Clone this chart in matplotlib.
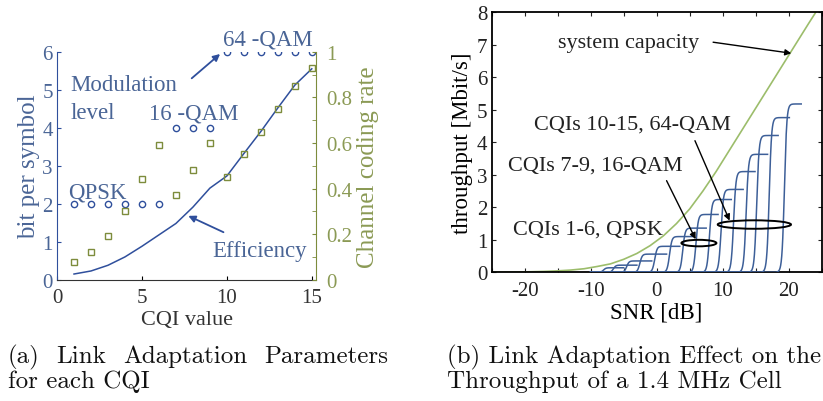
import numpy as np
import matplotlib
matplotlib.use("Agg")
import matplotlib.pyplot as plt
from matplotlib.patches import Ellipse

# ---- panel (a): link adaptation parameters per CQI ----
CQI = list(range(1, 16))
MOD_BITS = [2, 2, 2, 2, 2, 2, 4, 4, 4, 6, 6, 6, 6, 6, 6]
CODE_RATE = [0.076, 0.12, 0.19, 0.30, 0.44, 0.59, 0.37, 0.48, 0.60,
             0.45, 0.55, 0.65, 0.75, 0.85, 0.93]
EFFICIENCY = [0.15, 0.23, 0.38, 0.60, 0.88, 1.18, 1.48, 1.91, 2.41,
              2.73, 3.32, 3.90, 4.52, 5.12, 5.55]

# ---- panel (b): throughput vs SNR ----
CAP_SNR = [-25, -23, -21, -19, -17, -15, -13, -11, -9, -7, -5, -3, -1,
           1, 3, 5, 7, 9, 11, 13, 15, 17, 19, 21, 23, 24.1]
CAP_TPUT = [0.005, 0.007, 0.011, 0.018, 0.028, 0.045, 0.07, 0.11, 0.18,
            0.26, 0.40, 0.58, 0.82, 1.12, 1.50, 1.95, 2.50, 3.10, 3.75,
            4.40, 5.05, 5.70, 6.35, 7.00, 7.65, 8.0]
STEP_PLATEAU = [0.14, 0.22, 0.35, 0.56, 0.80, 1.10, 1.36, 1.78, 2.24,
                2.55, 3.10, 3.63, 4.21, 4.76, 5.18]
STEP_TOP = [-7.5, -6.0, -4.0, -2.0, 0.25, 2.5, 4.5, 6.5, 8.55,
            10.3, 12.2, 14.1, 15.7, 17.6, 19.9]
STEP_END = [-5.0, -3.0, -0.75, 1.5, 3.5, 5.5, 7.5, 9.3, 11.3,
            13.1, 14.9, 16.8, 18.4, 20.1, 21.9]

BLUE = "#2f4f9c"
BLUE_TXT = "#4a6596"
OLIVE = "#7d8c3c"
OLIVE_TXT = "#8b9a55"
STEP_C = "#3d5f98"
CAP_C = "#9cbd6b"

plt.rcParams["font.family"] = "Liberation Serif"

fig = plt.figure(figsize=(8.23, 4.02), dpi=100)

# ---------------- left panel ----------------
ax = fig.add_axes([0.0693, 0.3017, 0.3147, 0.5672])
ax.plot(CQI, EFFICIENCY, color=BLUE, lw=1.1, zorder=3)
ax.plot(CQI, MOD_BITS, ls="none", marker="o", ms=4.5, mfc="none",
        mec=BLUE, mew=1.0)
ax.set_xlim(0, 15.25)
ax.set_ylim(0, 6)
ax.set_xticks([0, 5, 10, 15])
ax.set_yticks(range(0, 7))
ax.tick_params(direction="in", length=3, labelsize=15, pad=3)
ax.tick_params(axis="x", pad=6, labelcolor="#333333")
ax.tick_params(axis="y", colors=BLUE, labelcolor=BLUE_TXT)
ax.spines["top"].set_visible(False)
ax.spines["right"].set_visible(False)
ax.spines["left"].set_color(BLUE)
ax.spines["bottom"].set_color("#333333")
ax.set_ylabel("bit per symbol", fontsize=18, color=BLUE_TXT, labelpad=2)
ax.set_xlabel("CQI value", fontsize=16, color="#333333", labelpad=2)

ax2 = ax.twinx()
ax2.plot(CQI, CODE_RATE, ls="none", marker="s", ms=4.2, mfc="none",
         mec=OLIVE, mew=1.0)
ax2.set_ylim(0, 1)
ax2.set_yticks([0, 0.2, 0.4, 0.6, 0.8, 1])
ax2.set_yticklabels(["0", "0.2", "0.4", "0.6", "0.8", "1"])
ax2.set_yticks(np.arange(0.1, 1.0, 0.2), minor=True)
ax2.tick_params(axis="y", which="both", direction="in", length=3,
                colors=OLIVE, labelcolor=OLIVE_TXT, labelsize=15, pad=7)
for s in ["top", "left", "bottom"]:
    ax2.spines[s].set_visible(False)
ax2.spines["right"].set_color(OLIVE)
ax2.set_ylabel("Channel coding rate", fontsize=18, color=OLIVE_TXT,
               labelpad=4)

ax.text(12.43, 6.33, "64 -QAM", fontsize=16.5, color=BLUE_TXT,
        ha="center", va="center")
ax.text(0.77, 5.15, "Modulation", fontsize=16.5, color=BLUE_TXT,
        ha="left", va="center")
ax.text(0.77, 4.40, "level", fontsize=16.5, color=BLUE_TXT,
        ha="left", va="center")
ax.text(8.07, 4.40, "16 -QAM", fontsize=16.5, color=BLUE_TXT,
        ha="center", va="center")
ax.text(2.39, 2.30, "QPSK", fontsize=16.5, color=BLUE_TXT,
        ha="center", va="center")
ax.text(11.9, 0.76, "Efficiency", fontsize=16.5, color=BLUE_TXT,
        ha="center", va="center")
arr = dict(arrowstyle="-|>", color=BLUE, lw=1.3, mutation_scale=10,
           shrinkA=0, shrinkB=0)
ax.annotate("", xy=(9.6, 5.94), xytext=(7.93, 5.30), arrowprops=arr)
ax.annotate("", xy=(7.73, 1.68), xytext=(9.8, 1.25), arrowprops=arr)

# ---------------- right panel ----------------
bx = fig.add_axes([0.5974, 0.3201, 0.401, 0.6468])
bx.plot(CAP_SNR, CAP_TPUT, color=CAP_C, lw=1.2, zorder=2)
for p, top, end in zip(STEP_PLATEAU, STEP_TOP, STEP_END):
    x = np.linspace(-10, end, 800)
    y = p / (1 + np.exp(-(x - top + 0.55) / 0.18))
    bx.plot(x, y, color=STEP_C, lw=1.1, zorder=3)
bx.set_xlim(-25, 25)
bx.set_ylim(0, 8)
xt = list(range(-25, 26, 5))
bx.set_xticks(xt)
bx.set_xticklabels([str(v) if v % 10 == 0 else "" for v in xt])
bx.set_yticks(range(0, 9))
bx.tick_params(direction="in", length=3, labelsize=15, top=True,
               right=True, colors="#222222", pad=3)
bx.tick_params(axis="x", pad=6)
for s in bx.spines.values():
    s.set_linewidth(1.3)
bx.set_xlabel("SNR [dB]", fontsize=16.5, labelpad=1)
bx.set_ylabel("throughput [Mbit/s]", fontsize=16.5, labelpad=3)

tk = dict(fontsize=16, ha="center", va="center", color="#222222")
bx.text(-4.3, 7.07, "system capacity", **tk)
bx.text(-3.7, 4.56, "CQIs 10-15, 64-QAM", **tk)
bx.text(-9.3, 3.31, "CQIs 7-9, 16-QAM", **tk)
bx.text(-10.4, 1.33, "CQIs 1-6, QPSK", **tk)
karr = dict(arrowstyle="-|>", color="black", lw=1.0, mutation_scale=9,
            shrinkA=0, shrinkB=0)
bx.annotate("", xy=(20.4, 6.74), xytext=(8.55, 7.08), arrowprops=karr)
bx.annotate("", xy=(11.05, 1.59), xytext=(5.8, 4.05), arrowprops=karr)
bx.annotate("", xy=(5.9, 1.02), xytext=(1.5, 2.82), arrowprops=karr)
bx.add_patch(Ellipse((14.8, 1.47), 11.1, 0.26, fill=False,
                     edgecolor="black", lw=1.4, zorder=5))
bx.add_patch(Ellipse((6.4, 0.90), 5.3, 0.20, fill=False,
                     edgecolor="black", lw=1.4, zorder=5))

# ---------------- captions ----------------
W, H = 823.0, 402.0
cap = dict(fontsize=18, family="cmr10", va="center", color="#111111")

# first line of (a) is justified between x=8 and x=388 px
words = ["(a)", "Link", "Adaptation", "Parameters"]
arts = [fig.text(0, 1 - 357 / H, w, ha="left", **cap) for w in words]
rend = fig.canvas.get_renderer()
widths = [a.get_window_extent(rend).width for a in arts]
gap = (388 - 8 - sum(widths)) / (len(words) - 1)
xpos = 8.0
for a, w in zip(arts, widths):
    a.set_x(xpos / W)
    xpos += w + gap

fig.text(8 / W, 1 - 382 / H, "for each CQI", ha="left", **cap)
fig.text(447 / W, 1 - 357 / H, "(b) Link Adaptation Effect on the",
         ha="left", **cap)
fig.text(447 / W, 1 - 382 / H, "Throughput of a 1.4 MHz Cell",
         ha="left", **cap)

fig.savefig("out.png", dpi=100)
